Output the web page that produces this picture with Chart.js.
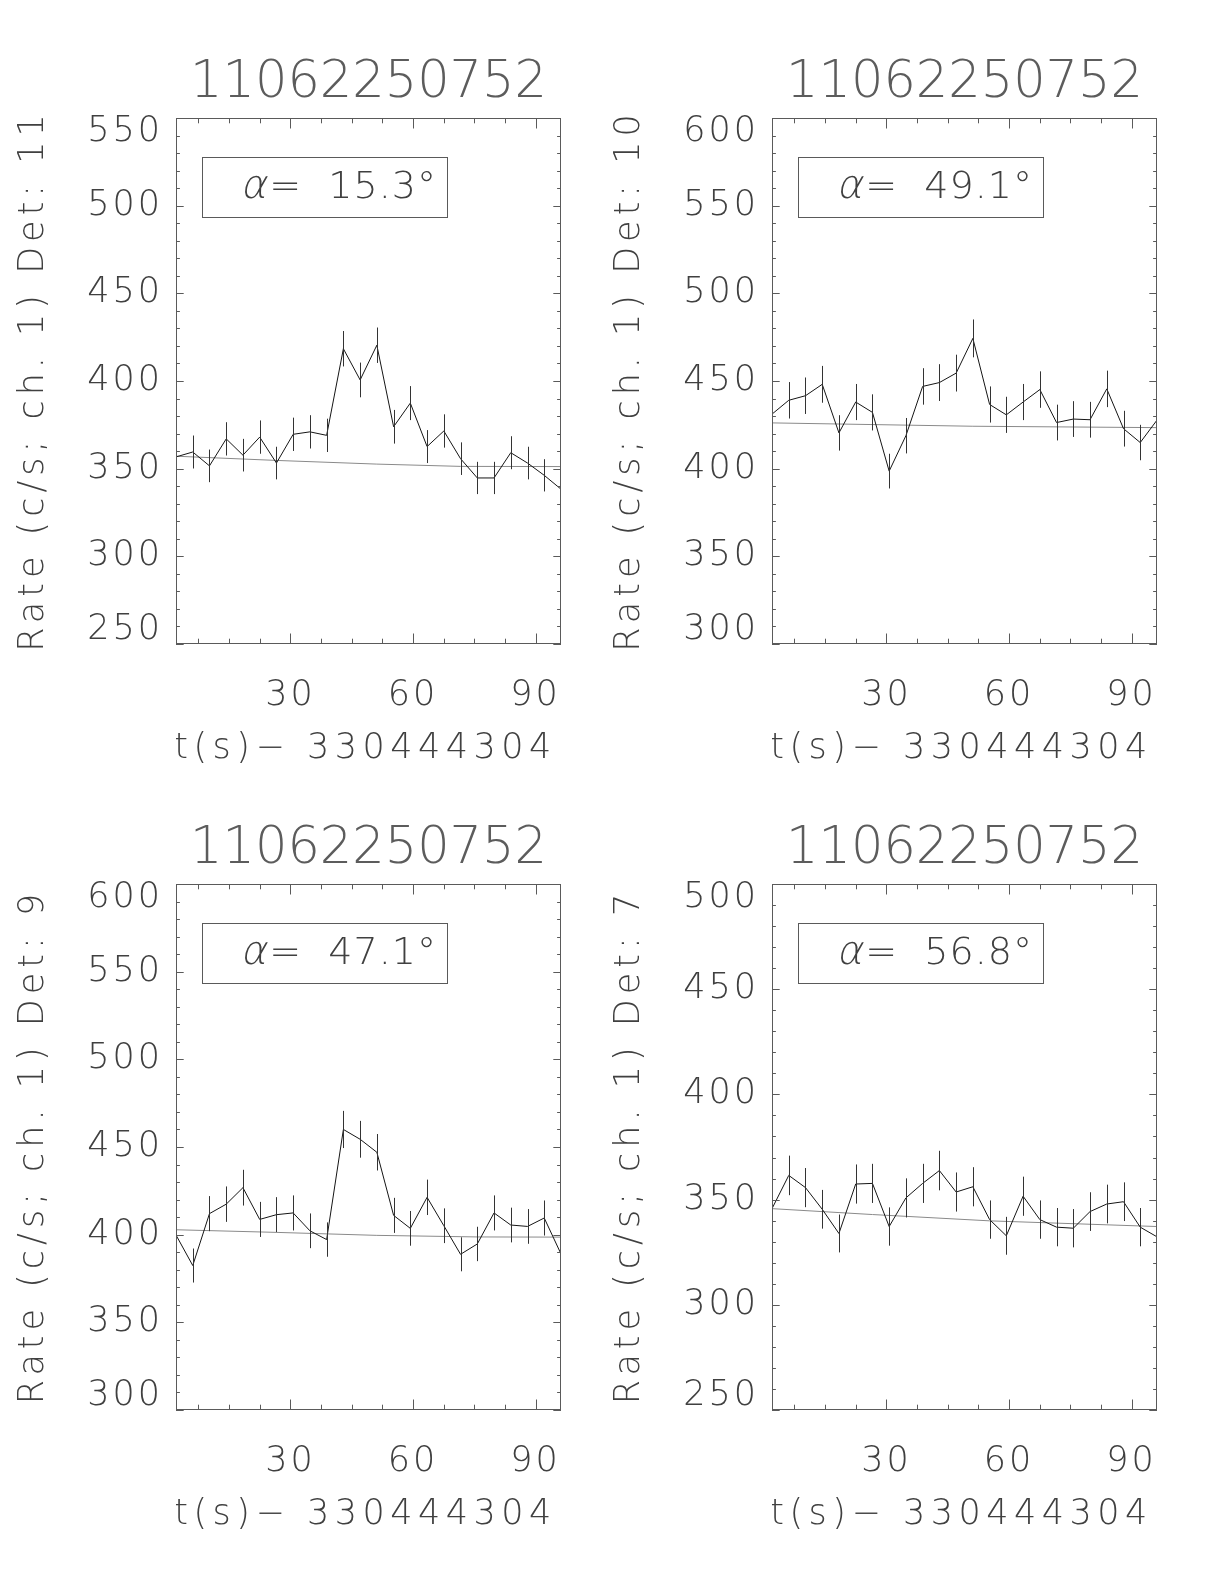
<!DOCTYPE html>
<html>
<head>
<meta charset="utf-8">
<title>11062250752 detector rates</title>
<script src="https://cdn.jsdelivr.net/npm/chart.js@4.4.0/dist/chart.umd.min.js"></script>
<style>
  html, body { margin: 0; padding: 0; background: #fff; }
  #page { position: relative; width: 1224px; height: 1584px; }
  #page canvas { position: absolute; }
</style>
</head>
<body>
<div id="page">
  <canvas id="det11" width="612" height="766" style="left:0px;top:0px"></canvas>
  <canvas id="det10" width="612" height="766" style="left:596px;top:0px"></canvas>
  <canvas id="det9" width="612" height="766" style="left:0px;top:766px"></canvas>
  <canvas id="det7" width="612" height="766" style="left:596px;top:766px"></canvas>
</div>
<script>
// values (4.096 s bins)
const burstName = '11062250752';
const timeTitle = 't(s)\u2212 330444304';
const times = [2.00, 6.10, 10.19, 14.29, 18.38, 22.48, 26.58, 30.67, 34.77, 38.86, 42.96, 47.06,
               51.15, 55.25, 59.34, 63.44, 67.54, 71.63, 75.73, 79.82, 83.92, 88.02, 92.11, 96.21];
const xTickLabels = [30, 60, 90];

// Det 11
const rate11 = [356.7, 359.5, 351.6, 367.0, 357.7, 368.0, 353.2, 369.6, 371.0, 369.0, 418.4, 400.6,
                420.4, 373.9, 387.4, 362.6, 371.5, 355.7, 344.7, 344.7, 359.1, 353.2, 346.2, 338.3];
const err11 = [9.3, 9.4, 9.3, 9.5, 9.3, 9.5, 9.3, 9.5, 9.5, 9.5, 10.1, 9.9,
               10.1, 9.6, 9.7, 9.4, 9.5, 9.3, 9.2, 9.2, 9.4, 9.3, 9.2, 9.1];
const fitT11 = [2.00, 26.58, 51.15, 71.63, 96.21];
const fit11 = [357.1, 354.7, 352.6, 351.3, 351.2];
const yRange11 = [250, 550];

// Det 10
const rate10 = [431.1, 439.0, 441.6, 448.1, 420.4, 438.0, 432.1, 398.6, 418.8, 446.9, 449.1, 454.5,
                474.3, 436.6, 430.7, 438.0, 445.1, 426.3, 428.3, 427.9, 445.5, 422.8, 414.9, 427.7];
const err10 = [10.3, 10.4, 10.4, 10.5, 10.1, 10.3, 10.3, 9.9, 10.1, 10.4, 10.5, 10.5,
               10.8, 10.3, 10.3, 10.3, 10.4, 10.2, 10.2, 10.2, 10.4, 10.2, 10.1, 10.2];
const fitT10 = [2.00, 51.15, 96.21];
const fit10 = [426.1, 424.2, 423.4];
const yRange10 = [300, 600];

// Det 9
const rate9 = [399.8, 382.4, 412.0, 417.4, 426.8, 408.7, 411.4, 412.4, 402.2, 397.2, 460.0, 454.4,
               447.0, 411.0, 403.6, 421.3, 405.1, 388.8, 394.7, 412.4, 405.5, 404.7, 409.5, 389.0];
const err9 = [9.9, 9.7, 10.0, 10.1, 10.2, 10.0, 10.0, 10.0, 9.9, 9.8, 10.6, 10.5,
              10.4, 10.0, 9.9, 10.1, 9.9, 9.7, 9.8, 10.0, 9.9, 9.9, 10.0, 9.7];
const fitT9 = [2.00, 26.58, 51.15, 75.73, 96.21];
const fit9 = [402.8, 401.3, 399.6, 398.7, 398.6];
const yRange9 = [300, 600];

// Det 7
const rate7 = [345.7, 361.5, 355.7, 345.4, 333.9, 357.4, 357.7, 337.2, 350.8, 357.7, 363.8, 353.6,
               356.1, 340.5, 332.8, 351.6, 340.5, 336.9, 336.4, 344.3, 347.9, 349.0, 336.9, 332.3];
const err7 = [9.2, 9.4, 9.3, 9.2, 9.0, 9.3, 9.3, 9.1, 9.3, 9.3, 9.4, 9.3,
              9.3, 9.1, 9.0, 9.3, 9.1, 9.1, 9.1, 9.2, 9.2, 9.2, 9.1, 9.0];
const fitT7 = [2.00, 26.58, 55.25, 96.21];
const fit7 = [345.7, 342.9, 339.9, 337.2];
const yRange7 = [250, 500];

const panels = [
    {id: 'det11', det: 11, alpha: '15.3', rate: rate11, err: err11, fitT: fitT11, fit: fit11, range: yRange11},
    {id: 'det10', det: 10, alpha: '49.1', rate: rate10, err: err10, fitT: fitT10, fit: fit10, range: yRange10},
    {id: 'det9', det: 9, alpha: '47.1', rate: rate9, err: err9, fitT: fitT9, fit: fit9, range: yRange9},
    {id: 'det7', det: 7, alpha: '56.8', rate: rate7, err: err7, fitT: fitT7, fit: fit7, range: yRange7}
];

const FAMILY = '"DejaVu Sans", sans-serif';
const INK = '#404040';
const FRAME = '#5a5a5a';

function putText(ctx, str, x, y, size, spacing, align, color) {
    ctx.font = '200 ' + size + 'px ' + FAMILY;
    ctx.letterSpacing = spacing + 'px';
    ctx.textAlign = align;
    ctx.textBaseline = 'alphabetic';
    ctx.fillStyle = color || INK;
    ctx.fillText(str, x, y);
}

// IDL style box: inward ticks on all sides, error bars, titles, alpha label
const idlPlot = {
    id: 'idl',
    beforeDraw(chart) {
        chart.ctx.letterSpacing = '3px';
    },
    afterDatasetsDraw(chart) {
        const ctx = chart.ctx, ca = chart.chartArea;
        const xs = chart.scales.x, ys = chart.scales.y;
        const ds = chart.data.datasets[0];
        ctx.save();
        ctx.beginPath();
        ctx.rect(ca.left, ca.top, ca.right - ca.left, ca.bottom - ca.top);
        ctx.clip();
        ctx.strokeStyle = '#333';
        ctx.lineWidth = 1;
        ctx.beginPath();
        ds.data.forEach(function(p, i) {
            const px = Math.round(xs.getPixelForValue(p.x)) + 0.5;
            ctx.moveTo(px, ys.getPixelForValue(p.y - ds.errors[i]));
            ctx.lineTo(px, ys.getPixelForValue(p.y + ds.errors[i]));
        });
        ctx.stroke();
        ctx.restore();
    },
    afterDraw(chart, args, opts) {
        const ctx = chart.ctx, ca = chart.chartArea;
        const xs = chart.scales.x, ys = chart.scales.y;
        ctx.save();
        ctx.strokeStyle = FRAME;
        ctx.lineWidth = 1;
        ctx.strokeRect(ca.left + 0.5, ca.top + 0.5, ca.right - ca.left - 1, ca.bottom - ca.top - 1);

        ctx.beginPath();
        xs.ticks.forEach(function(t) {
            const px = Math.round(xs.getPixelForValue(t.value)) + 0.5;
            const len = t.value % 30 === 0 ? 10.5 : 5.3;
            ctx.moveTo(px, ca.bottom); ctx.lineTo(px, ca.bottom - len);
            ctx.moveTo(px, ca.top); ctx.lineTo(px, ca.top + len);
        });
        ys.ticks.forEach(function(t) {
            const py = Math.round(ys.getPixelForValue(t.value)) + 0.5;
            const len = t.value % 50 === 0 ? 7.7 : 3.9;
            ctx.moveTo(ca.left, py); ctx.lineTo(ca.left + len, py);
            ctx.moveTo(ca.right, py); ctx.lineTo(ca.right - len, py);
        });
        ctx.stroke();

        const cx = (ca.left + ca.right) / 2;
        putText(ctx, burstName, cx, ca.top - 21, 51, 0, 'center', '#5c5c5c');
        putText(ctx, timeTitle, cx - 3, ca.bottom + 114, 35, 5.5, 'center');

        ctx.save();
        ctx.translate(ca.left - 133, (ca.top + ca.bottom) / 2 + 2);
        ctx.rotate(-Math.PI / 2);
        putText(ctx, 'Rate (c/s; ch. 1) Det: ' + opts.det, 2.5, 0, 35, 5, 'center');
        ctx.restore();

        // alpha label box, alpha slanted by hand (no light oblique face)
        ctx.strokeStyle = FRAME;
        ctx.strokeRect(ca.left + 26.5, ca.top + 39.5, 245, 60);
        const ax = ca.left + 64, ay = ca.top + 80;
        ctx.save();
        ctx.translate(ax, ay);
        ctx.transform(1, 0, -0.22, 1, 0, 0);
        putText(ctx, '\u03b1', 0, 0, 40, 0, 'left');
        const aw = ctx.measureText('\u03b1').width;
        ctx.restore();
        putText(ctx, '=  ' + opts.alpha + '\u00b0', ax + aw + 3, ay, 38, 1, 'left');
        ctx.restore();
    }
};

panels.forEach(function(p) {
    new Chart(document.getElementById(p.id), {
        type: 'line',
        data: {
            datasets: [{
                data: times.map(function(t, i) { return {x: t, y: p.rate[i]}; }),
                errors: p.err,
                borderColor: '#151515',
                borderWidth: 1,
                pointRadius: 0,
                tension: 0
            }, {
                data: p.fitT.map(function(t, i) { return {x: t, y: p.fit[i]}; }),
                borderColor: '#8a8a8a',
                borderWidth: 1,
                pointRadius: 0,
                tension: 0
            }]
        },
        options: {
            responsive: false,
            animation: false,
            devicePixelRatio: 1,
            layout: {padding: {left: 0, right: 51, top: 118, bottom: 0}},
            plugins: {
                legend: {display: false},
                tooltip: {enabled: false},
                idl: {det: p.det, alpha: p.alpha}
            },
            scales: {
                x: {
                    type: 'linear',
                    min: times[0],
                    max: times[times.length - 1],
                    afterFit: function(scale) { scale.height = 122; },
                    afterBuildTicks: function(scale) {
                        const ticks = [];
                        for (let v = 7.5; v <= scale.max; v += 7.5) ticks.push({value: v});
                        scale.ticks = ticks;
                    },
                    grid: {display: false, drawTicks: false, tickLength: 0},
                    border: {display: false},
                    ticks: {
                        autoSkip: false,
                        maxRotation: 0,
                        minRotation: 0,
                        padding: 31,
                        color: INK,
                        font: {family: FAMILY, size: 35, weight: 200},
                        callback: function(v) { return xTickLabels.includes(v) ? String(v) : ''; }
                    }
                },
                y: {
                    type: 'linear',
                    min: p.range[0],
                    max: p.range[1],
                    afterFit: function(scale) { scale.width = 176; },
                    afterBuildTicks: function(scale) {
                        const ticks = [];
                        for (let v = Math.ceil(scale.min / 10) * 10; v <= scale.max; v += 10) ticks.push({value: v});
                        scale.ticks = ticks;
                    },
                    grid: {display: false, drawTicks: false, tickLength: 0},
                    border: {display: false},
                    ticks: {
                        autoSkip: false,
                        padding: 13,
                        color: INK,
                        font: {family: FAMILY, size: 35, weight: 200, lineHeight: 0.8},
                        // end labels sit inside the box, as in the original plot
                        callback: function(v) {
                            if (v % 50 !== 0) return '';
                            if (v === this.max) return ['', String(v)];
                            if (v === this.min) return [String(v), ''];
                            return String(v);
                        }
                    }
                }
            }
        },
        plugins: [idlPlot]
    });
});
</script>
</body>
</html>
